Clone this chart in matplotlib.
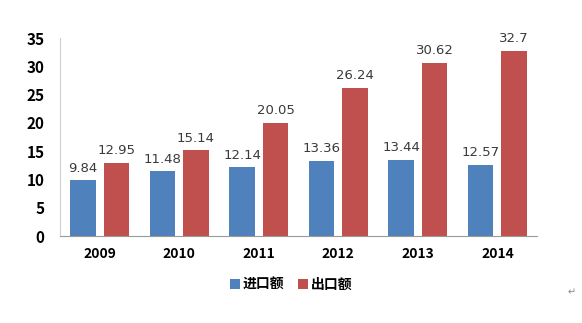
import matplotlib.pyplot as plt
import numpy as np

plt.rcParams['font.family'] = ['Noto Sans CJK SC', 'DejaVu Sans']

years = ['2009', '2010', '2011', '2012', '2013', '2014']
imports = [9.84, 11.48, 12.14, 13.36, 13.44, 12.57]
exports = [12.95, 15.14, 20.05, 26.24, 30.62, 32.7]
import_labels = ['9.84', '11.48', '12.14', '13.36', '13.44', '12.57']
export_labels = ['12.95', '15.14', '20.05', '26.24', '30.62', '32.7']

fig = plt.figure(figsize=(5.82, 3.23), dpi=100)
ax = fig.add_axes([0.103, 0.269, 0.82, 0.613])

x = np.arange(len(years))
w = 0.32
b1 = ax.bar(x - 0.21, imports, w, color='#4F81BD', label='进口额')
b2 = ax.bar(x + 0.21, exports, w, color='#C0504D', label='出口额')

for i in range(len(years)):
    ax.text(x[i] - 0.21, imports[i] + 1.0, import_labels[i], ha='center', va='bottom',
            fontsize=9.5, color='#3a3a3a', family='DejaVu Sans')
    ax.text(x[i] + 0.21, exports[i] + 1.0, export_labels[i], ha='center', va='bottom',
            fontsize=9.5, color='#3a3a3a', family='DejaVu Sans')

ax.set_xlim(-0.5, len(years) - 0.5)
ax.set_ylim(0, 35)
ax.set_yticks(range(0, 36, 5))
ax.set_xticks(x)
ax.set_xticklabels(years, fontweight='bold', fontsize=10)
for t in ax.get_yticklabels():
    t.set_fontweight('bold')
    t.set_fontsize(11)
ax.tick_params(length=0, pad=8)
ax.tick_params(axis='y', pad=11)
ax.spines['top'].set_visible(False)
ax.spines['right'].set_visible(False)
ax.spines['left'].set_color('#d0d0d0')
ax.spines['bottom'].set_color('#999999')

leg = fig.legend(handles=[b1, b2], loc='center', bbox_to_anchor=(0.5, 0.118), ncol=2,
                 frameon=False, handlelength=0.7, handleheight=0.7, handletextpad=0.2,
                 columnspacing=1.0, prop={'weight': 'bold', 'size': 10})

fig.text(0.975, 0.085, '↵', fontsize=7, color='#888888', family='DejaVu Sans')

fig.savefig('out.png', dpi=100)
